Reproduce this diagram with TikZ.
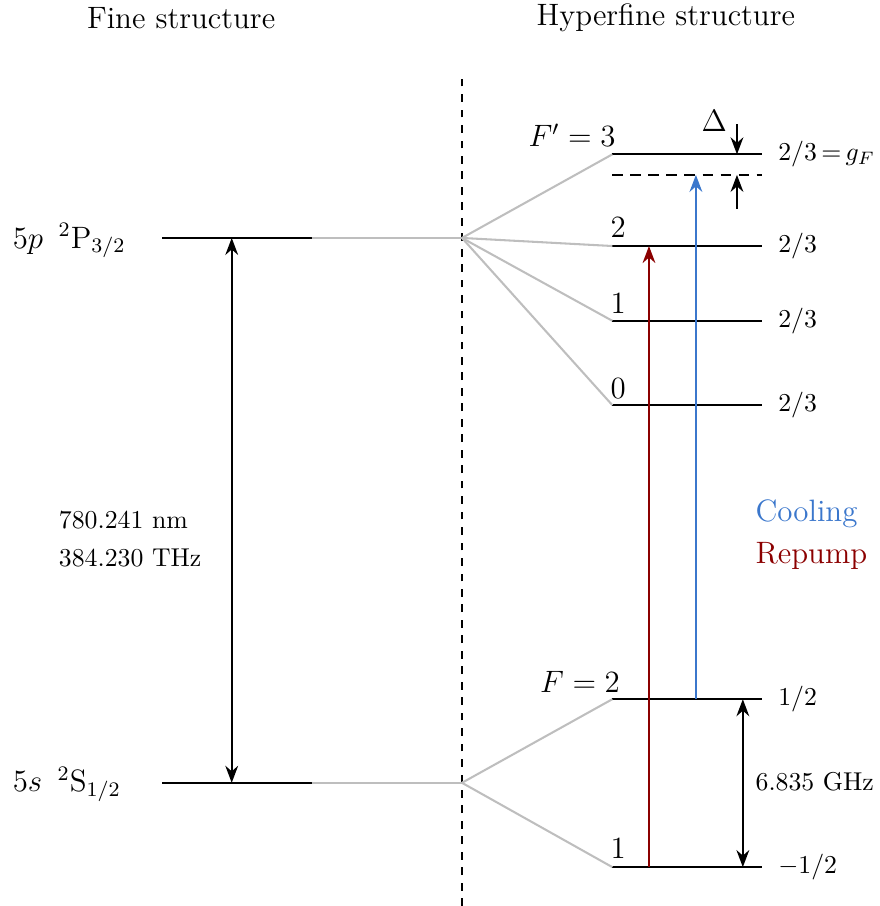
\documentclass[tikz,border=0pt]{standalone}
\usetikzlibrary{arrows.meta}
\definecolor{coolblue}{RGB}{59,119,204}
\definecolor{repumpred}{RGB}{139,0,0}
\definecolor{linkgray}{RGB}{190,190,190}
\begin{document}
\begin{tikzpicture}[
    level/.style = {thick},
    link/.style = {thick, linkgray},
    trans/.style = {thick, -{Stealth}},
    both/.style = {thick, {Stealth}-{Stealth}},
    gfac/.style = {anchor = west, xshift = .1cm},
    lvl/.style = {font = \large},
  ]
  \useasboundingbox (0,0) rectangle (12,12.355);
  \node at (2.47,12.11) {\large Fine structure};
  \node at (9.08,12.11) {\large Hyperfine structure};
  \draw [thick, dashed] (6.30,0) -- (6.30,11.33);
  % fine structure
  \coordinate (Pl) at (2.21,9.11);
  \coordinate (Pm) at (4.25,9.11);
  \coordinate (Pr) at (6.30,9.11);
  \coordinate (Sl) at (2.21,1.68);
  \coordinate (Sm) at (4.25,1.68);
  \coordinate (Sr) at (6.30,1.68);
  \draw [level] (Pl) -- (Pm);
  \draw [link] (Pm) -- (Pr);
  \draw [level] (Sl) -- (Sm);
  \draw [link] (Sm) -- (Sr);
  \node [lvl, anchor = west] (Plab) at (0.05,9.07) {$5p\enspace{}^2\mathrm{P}_{3/2}$};
  \node [lvl, anchor = west] (Slab) at (0.05,1.66) {$5s\enspace{}^2\mathrm{S}_{1/2}$};
  \draw [both] ([xshift = .95cm]Pl) -- ([xshift = .95cm]Sl);
  \node [anchor = west] (wl) at (0.68,5.26) {780.241 nm};
  \node [anchor = west] (fr) at (0.68,4.75) {384.230 THz};
  % hyperfine structure
  \foreach \n/\y in {e3/10.25, e2/9.00, e1/7.98, e0/6.83, g2/2.82, g1/0.53} {
    \coordinate (\n l) at (8.35,\y);
    \coordinate (\n r) at (10.39,\y);
    \draw [level] (\n l) -- (\n r);
  }
  \coordinate (dl) at (8.35,9.97);
  \coordinate (dr) at (10.39,9.97);
  \draw [thick, dash pattern = on 4pt off 3pt] (dl) -- (dr);
  \foreach \n in {e3, e2, e1, e0}
    \draw [link] (Pr) -- (\n l);
  \foreach \n in {g2, g1}
    \draw [link] (Sr) -- (\n l);
  \node [lvl] (e3lab) at (7.80,10.51) {$F' = 3$};
  \node [lvl] (e2lab) at (8.43,9.25) {$2$};
  \node [lvl] (e1lab) at (8.43,8.22) {$1$};
  \node [lvl] (e0lab) at (8.43,7.06) {$0$};
  \node [lvl] (g2lab) at (7.91,3.05) {$F = 2$};
  \node [lvl] (g1lab) at (8.43,0.78) {$1$};
  \node [gfac] at (e3r) {$2/3\,{=}\,g_F$};
  \node [gfac] at (e2r) {$2/3$};
  \node [gfac] at (e1r) {$2/3$};
  \node [gfac] at (e0r) {$2/3$};
  \node [gfac] at (g2r) {$1/2$};
  \node [gfac] at (g1r) {$-1/2$};
  % detuning
  \coordinate (dtop) at (10.05,10.66);
  \coordinate (dbot) at (10.05,9.51);
  \draw [trans] (dtop) -- (dtop |- e3r);
  \draw [trans] (dbot) -- (dbot |- dr);
  \node [lvl] (delta) at (9.74,10.70) {$\Delta$};
  % transitions
  \draw [trans, repumpred] ([xshift = .5cm]g1l) -- ([xshift = .5cm]e2l);
  \draw [trans, coolblue] ([xshift = 1.14cm]g2l) -- ([xshift = 1.14cm]dl);
  \draw [both] ([xshift = -.26cm]g2r) -- ([xshift = -.26cm]g1r);
  \node [anchor = west] (split) at (10.18,1.69) {6.835 GHz};
  \node [anchor = west, coolblue] (cool) at (10.18,5.35) {\large Cooling};
  \node [anchor = west, repumpred] (rep) at (10.18,4.77) {\large Repump};
\end{tikzpicture}
\end{document}
